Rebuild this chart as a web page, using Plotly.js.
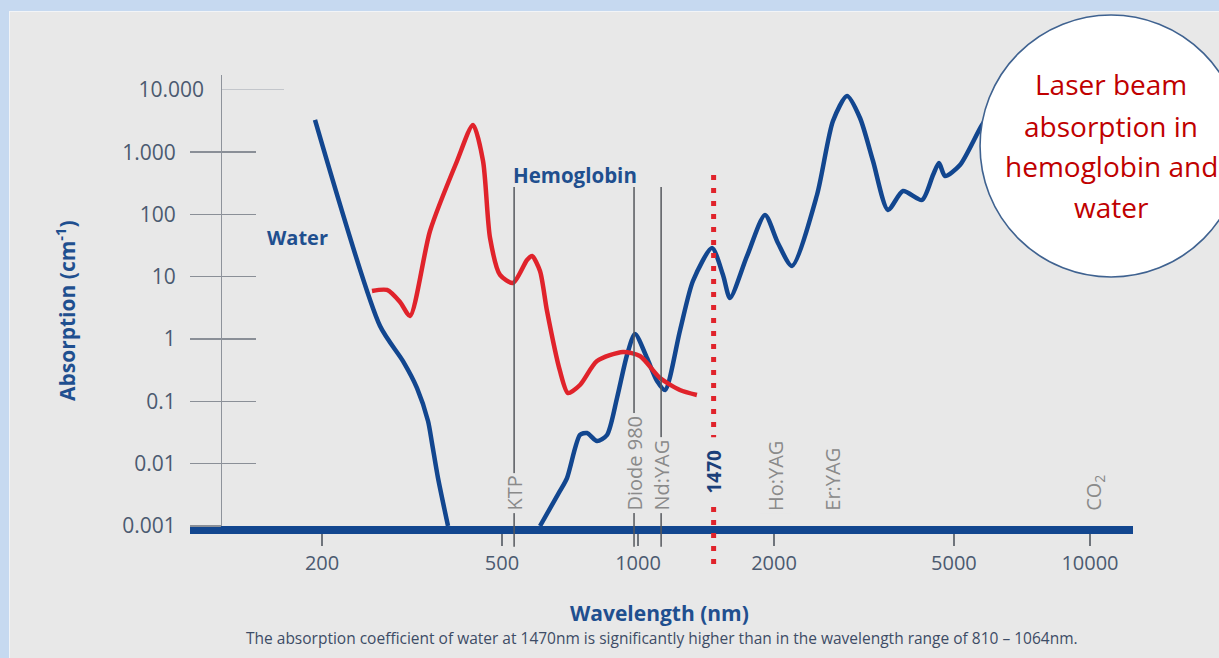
<!DOCTYPE html>
<html>
<head>
<meta charset="utf-8">
<script src="https://cdn.plot.ly/plotly-3.0.1.min.js"></script>
<style>
  html, body { margin: 0; padding: 0; width: 1219px; height: 658px; overflow: hidden; background: #c6d9f0; }
  #panel { position: absolute; left: 9px; top: 11px; width: 1210px; height: 647px; background: #e8e8e8; border-top: 1px solid #f2f4f7; border-left: 1px solid #f2f4f7; }
  #chart { position: absolute; left: 0; top: 0; width: 1219px; height: 658px; }
</style>
</head>
<body>
<div id="panel"></div>
<div id="chart"></div>
<script>
// ---- data ----
const waterWavelength = [192.9, 268.7, 302.0, 324.4, 343.1, 350.1, 361.0, 379.9, 607.0, 672.0, 696.5, 744.1, 771.2, 811.5, 854.0, 898.6, 945.6, 984.9, 1047, 1102, 1148, 1238, 1323, 1458, 1542, 1598, 1743, 1910, 2040, 2191, 2489, 2700, 2900, 3099, 3311, 3574, 3858, 4250, 4495, 4634, 4778, 5157, 5769, 6163];
const waterAbsorption = [3289, 1.62, 0.444, 0.164, 0.0484, 0.0215, 0.00589, 0.001, 0.001, 0.00365, 0.00589, 0.0289, 0.0311, 0.0231, 0.0289, 0.1134, 0.556, 1.21, 0.497, 0.2125, 0.1524, 1.349, 8.56, 29.0, 10.7, 4.57, 21.6, 98.2, 34.9, 14.9, 205.6, 3168, 7980, 3540, 722, 118, 238, 171, 430, 671, 415, 623, 2733, 5122];

const hbWavelength = [257.9, 278.4, 297.5, 313.0, 346.6, 397.8, 431.5, 454.1, 470.6, 495.1, 529.0, 568.2, 582.9, 607.0, 629.1, 672.0, 700.0, 744.1, 811.5, 926.5, 1010, 1118.8, 1238, 1350];
const hbAbsorption = [5.92, 6.14, 3.94, 2.35, 54.3, 722, 2733, 722, 41.96, 10.7, 7.95, 18.6, 21.6, 12.4, 2.82, 0.3077, 0.1364, 0.1834, 0.444, 0.621, 0.5355, 0.2375, 0.1524, 0.1266];

const xTickVals = [200, 500, 1000, 2000, 5000, 10000];
const xTickText = ['200', '500', '1000', '2000', '5000', '10000'];
const yTickVals = [0.001, 0.01, 0.1, 1, 10, 100, 1000];
const yTickText = ['0.001', '0.01', '0.1', '1', '10', '100', '1.000'];
const yTopTickVals = [10000];
const yTopTickText = ['10.000'];

const laserNames = ['KTP', 'Diode 980', 'Nd:YAG', '1470', 'Ho:YAG', 'Er:YAG', 'CO<sub>2</sub>'];
const laserWavelength = [532, 980, 1125, 1470, 2010, 2690, 10200];
const laserHasLine = [true, true, true, true, false, false, false];

const circleLines = ['Laser beam', 'absorption in', 'hemoglobin and', 'water'];

// ---- styling ----
const BLUE = '#12468f';
const RED = '#e0232b';
const GRAY_TEXT = '#4b5a70';
const TITLE_BLUE = '#1f4f8f';
const BG = '#e8e8e8';
const FONT = 'Open Sans, Noto Sans, sans-serif';

const xRange = [2.0088, 4.0952];
const yRange = [-3, 4.239];
const yPos = 0.0329;
const toPaperX = w => (Math.log10(w) - xRange[0]) / (xRange[1] - xRange[0]);

// water curve: descending branch and rising branch (they meet along the baseline)
const splitAt = waterAbsorption.indexOf(0.001) + 1;
const traces = [
  {
    x: waterWavelength.slice(0, splitAt), y: waterAbsorption.slice(0, splitAt), type: 'scatter', mode: 'lines',
    line: { color: BLUE, width: 4.5, shape: 'spline', smoothing: 0.7 },
    xaxis: 'x', yaxis: 'y', hoverinfo: 'skip'
  },
  {
    x: waterWavelength.slice(splitAt), y: waterAbsorption.slice(splitAt), type: 'scatter', mode: 'lines',
    line: { color: BLUE, width: 4.5, shape: 'spline', smoothing: 0.7 },
    xaxis: 'x', yaxis: 'y2', hoverinfo: 'skip'
  },
  {
    x: hbWavelength, y: hbAbsorption, type: 'scatter', mode: 'lines',
    line: { color: RED, width: 4.5, shape: 'spline', smoothing: 0.7 },
    xaxis: 'x', yaxis: 'y3', hoverinfo: 'skip'
  }
];

const shapes = [];
const annotations = [];

laserNames.forEach((name, i) => {
  const isRed = name === '1470';
  const px = toPaperX(laserWavelength[i]);
  if (laserHasLine[i]) {
    if (isRed) {
      // dotted marker line, interrupted where its label sits
      shapes.push({
        type: 'line', xref: 'paper', yref: 'paper', layer: 'above',
        x0: px, x1: px, y0: 0.7783, y1: 0.197,
        line: { color: RED, width: 5, dash: '5px,8px' }
      });
      shapes.push({
        type: 'line', xref: 'paper', yref: 'paper', layer: 'above',
        x0: px, x1: px, y0: 0.042, y1: -0.092,
        line: { color: RED, width: 5, dash: '5px,8px' }
      });
    } else {
      shapes.push({
        type: 'line', xref: 'paper', yref: 'paper', layer: 'above',
        x0: px, x1: px, y0: 0.7517, y1: -0.046,
        line: { color: '#55585d', width: 1.5 }
      });
    }
  }
  annotations.push({
    xref: 'paper', yref: 'paper', x: px,
    y: isRed ? 0.12 : 0.0266, yanchor: isRed ? 'middle' : 'bottom', xanchor: 'center',
    text: isRed ? '<b>' + name + '</b>' : name, textangle: -90, showarrow: false,
    bgcolor: isRed ? 'rgba(0,0,0,0)' : BG, borderpad: 2,
    font: { family: FONT, size: isRed ? 19 : 20, color: isRed ? '#1a3f7a' : '#8a8a8a' }
  });
});

// circle callout
shapes.push({
  type: 'circle', xref: 'paper', yref: 'paper', layer: 'above',
  x0: 0.8378, x1: 1.1156, y0: 0.5521, y1: 1.1330,
  fillcolor: '#ffffff', line: { color: '#3f6290', width: 1.6 }
});
const circleY = [0.9800, 0.8870, 0.7983, 0.7073];
circleLines.forEach((t, i) => {
  annotations.push({
    xref: 'paper', yref: 'paper', x: 0.9767, y: circleY[i], xanchor: 'center', yanchor: 'middle',
    text: t, showarrow: false, font: { family: FONT, size: 28, color: '#c00000' }
  });
});

// text labels
const lbl = (x, y, text, size, color, extra) => Object.assign({
  xref: 'paper', yref: 'paper', x: x, y: y, xanchor: 'center', yanchor: 'middle',
  text: text, showarrow: false, font: { family: FONT, size: size, color: color }
}, extra || {});
annotations.push(
  lbl(-0.1325, 0.4767, '<b>Absorption (cm<sup>-1</sup>)</b>', 21, TITLE_BLUE, { textangle: -90 }),
  lbl(0.4984, -0.1929, '<b>Wavelength (nm)</b>', 21, TITLE_BLUE),
  lbl(0.5005, -0.2483, 'The absorption coefficient of water at 1470nm is significantly higher than in the wavelength range of 810 – 1064nm.', 15.5, '#3d4c66'),
  lbl(0.1145, 0.6386, '<b>Water</b>', 20, TITLE_BLUE),
  lbl(0.4083, 0.7783, '<b>Hemoglobin</b>', 20.5, TITLE_BLUE)
);

const yBase = {
  type: 'log', range: yRange, anchor: 'free', position: yPos, side: 'left',
  showgrid: false, zeroline: false
};

const layout = {
  width: 1219, height: 658,
  margin: { l: 190, r: 86, t: 75, b: 132 },
  paper_bgcolor: 'rgba(0,0,0,0)', plot_bgcolor: 'rgba(0,0,0,0)',
  showlegend: false, hovermode: false,
  font: { family: FONT },
  xaxis: {
    type: 'log', range: xRange,
    tickvals: xTickVals, ticktext: xTickText,
    ticks: 'outside', ticklen: 12, tickwidth: 1.6, tickcolor: '#6f747b',
    showline: true, linecolor: BLUE, linewidth: 8,
    showgrid: false, zeroline: false,
    tickfont: { family: FONT, size: 20, color: GRAY_TEXT }
  },
  yaxis: Object.assign({}, yBase, {
    tickvals: yTickVals, ticktext: yTickText,
    ticks: 'outside', ticklen: 31, tickwidth: 1.4, tickcolor: '#8a8f97',
    showline: true, linecolor: '#8e939b', linewidth: 1.3,
    ticklabelstandoff: 10,
    tickfont: { family: FONT, size: 21, color: GRAY_TEXT }
  }),
  yaxis2: Object.assign({}, yBase, {
    overlaying: 'y',
    tickvals: yTickVals, ticks: 'inside', ticklen: 34, tickwidth: 1.4, tickcolor: '#8a8f97',
    showticklabels: false, showline: false
  }),
  yaxis3: Object.assign({}, yBase, {
    overlaying: 'y',
    tickvals: yTopTickVals, ticktext: yTopTickText, ticks: 'inside', ticklen: 62, tickwidth: 1.2, tickcolor: '#c3c6cb',
    showline: false, ticklabelstandoff: 17,
    tickfont: { family: FONT, size: 21, color: GRAY_TEXT }
  }),
  shapes: shapes,
  annotations: annotations
};

Plotly.newPlot('chart', traces, layout, { staticPlot: true, displayModeBar: false });
</script>
</body>
</html>
